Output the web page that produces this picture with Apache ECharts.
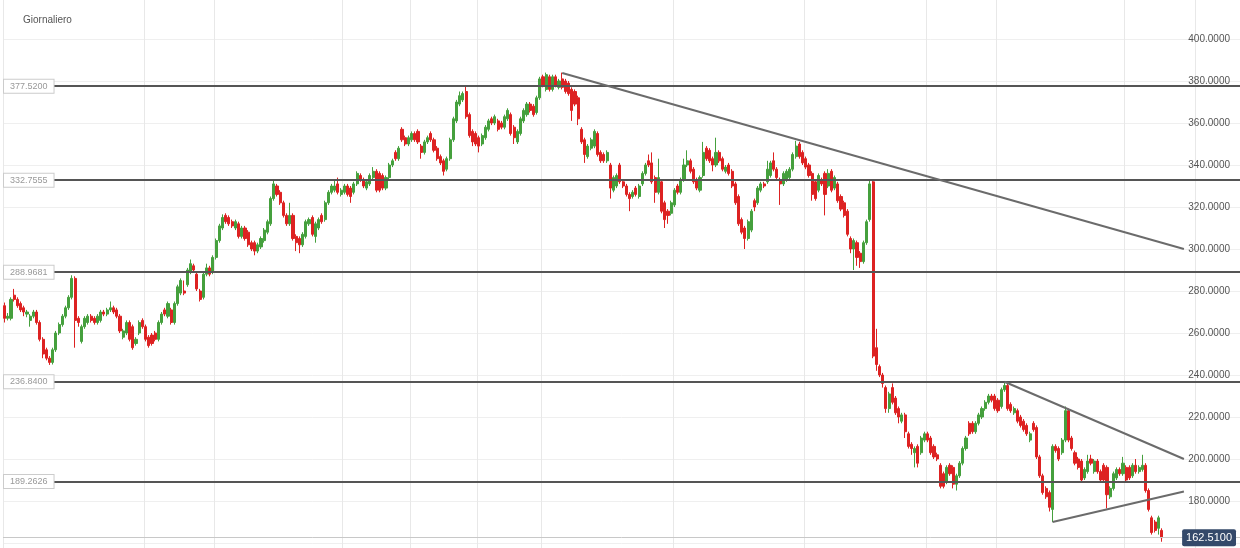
<!DOCTYPE html>
<html>
<head>
<meta charset="utf-8">
<title>Giornaliero</title>
<script src="https://cdn.jsdelivr.net/npm/echarts@6/dist/echarts.min.js"></script>
<style>
  html, body { margin: 0; padding: 0; background: #fff; }
  #chart { width: 1240px; height: 548px; }
</style>
</head>
<body>
<div id="chart"></div>
<script>
// daily candles, each [open, close, low, high]
const candlesA = [
  [273,267,265,274.5],[267,268,266,269.5],[267,276,266,277],[278,276,275,281],[276,273,272,277],
  [274,271,270,275],[272,270,268,273],[269,270,267.5,271],[266,268,263,269],[268,270,267,271],
  [270,265,264,271],[265,257,256,266],[257,250,248,258],[252,248,247,253],[248,246,244.8,249],
  [246,252,245,253],[252,260,251,261],[260,264,259,265],[264,268,263,269],[268,272,267,273],
  [272,277,271,278],[277,286,276,287.5],[286,266,253,287],[267,265,263,268],[256,263,255,264],
  [263,267,262,268],[265,268,264,269],[268,266,265,269],[267,265,264,268],[265,268,264,269],
  [266,270,265,271],[270,269,268,271],[269,271,268,272],[271,272,270,275],[272,270,269,273],
  [271,268,267,272],[268,261,260,269],[258,261,257,262],[260,265,259,266],[265,257,256,266],
  [263,253,252,264],[255,257,254,258],[260,265,259,266],[266,263,262,267],[263,257,256,264],
  [258,254,253,259],[259,255,254,260],[260,257,256,261],[257,265,256,266],[265,269,264,270],
  [271,269,268,272],[268,274,267,275],[271,265,264,272],[265,274,264,275],[274,282,273,283],
  [279,285,278,286],[280,279,278,285],[283,290,282,291],[289,293,288,295],[292,290,289,293],
  [288,281,280,289],[280,276,275,281]
];
const candlesB = [
  [277,288,276,289],[288,291,287,293],[291,288,287,292],[289,296,288,297],[296,304,295,305],
  [304,311,303,312],[310,315,309,316.5],[316,313,312,317],[315,312,311,316],[313,311,310,314],
  [310,313,309,314],[312,306,305,313],[306,310,305,311],[310,305,304,311],[308,302,301,309],
  [303,300,299,304],[303,299,297,304],[299,302,298,303],[301,305,300,306],[304,309,303,310],
  [308,313,307,314],[312,324,311,325],[324,331,323,333],[330,326,325,331],[327,322,321,328],
  [322,316,315,323],[316,312,311,317],[312,316,311,322],[316,305,304,317],[306,303,299,307],
  [305,302,298,306],[302,307,301,308],[306,313,305,314],[312,314,311,315],[315,307,306,316],
  [306,312,303,313],[310,314,309,315],[316,313,312,317],[314,322,313,323],[322,327,321,328],
  [327,330,326,331],[328,330,327,333],[331,327,326,334],[326,328,325,329],[327,330,326,331],
  [330,326,325,331],[329,325,322,330],[327,331,326,332],[331,336,330,337],[335,333,332,336],
  [333,330,329,334],[329,332,328,333],[331,335,330,336],[334,337,333,339],[337,328,327,338],
  [336,328,327,337],[335,329,328,336],[329,334,328,335],[334,340,333,341],[340,342,339,343],
  [346,343,342,347],[343,348,342,349]
];
const candlesC = [
  [357,352,351,358],[353,350,349,354],[350,353,349,354],[352,355,351,356],[355,352,351,356],
  [356,351,350,357],[349,346,343,350],[346,351,345,352],[351,353,350,354],[355,352,351,356],
  [352,347,346,353],[348,343,342,349],[344,341,340,345],[342,337,335,343],[338,343,337,344],
  [343,352,342,353],[352,362,351,363],[361,370,360,371],[369,373,368,375],[371,374,370,375],
  [375,363,362,378],[364,354,353,365],[356,351,349,357],[355,350,349,356],[353,349,346,354],
  [350,354,349,355],[353,358,352,359],[357,361,356,362],[362,360,359,363],[360,363,359,364],
  [361,357,356,362],[360,358,357,361],[358,363,357,364],[362,366,361,367],[364,355,354,365],
  [358,353,350,359],[351,356,350,357],[355,362,354,363],[361,366,360,367],[364,369,363,370],
  [369,366,365,370],[368,364,363,369],[365,372,364,373],[372,381,371,382],[382,378,377,383],
  [376,383,375,384],[382,376,375,383],[376,382,375,383],[382,378,377,383],[377,380,376,381],
  [381,377,376,384],[380,375,374,381],[379,374,373,380],[376,366,361,377],[375,369,368,376],
  [372,362,359,373],[357,351,350,358],[352,345,341,353],[344,349,343,350],[348,352,347,353],
  [349,356,348,357],[355,345,344,356]
];
const candlesD = [
  [346,342,341,347],[345,342,341,346],[342,346,341,347],[340,329,324,341],[328,334,327,335],
  [330,335,329,336],[340,332,331,341],[332,330,329,333],[330,326,325,331],[326,324,318,327],
  [325,327,324,328],[329,326,325,330],[325,330,324,331],[331,336,330,337],[336,340,335,341],
  [342,340,339,345],[341,332,331,346],[334,327,322,335],[327,334,326,343],[332,318,317,333],
  [322,314,310,323],[318,316,312,319],[317,322,316,323],[321,328,320,329],[330,327,326,331],
  [327,333,326,334],[333,340,332,343],[340,342,339,347],[342,337,336,343],[338,332,331,339],
  [333,329,328,334],[328,334,327,335],[335,346,334,351],[348,343,342,349],[347,342,341,348],
  [343,340,337,344],[340,346,339,353],[346,342,341,347],[343,338,337,344],[337,339,336,340],
  [340,336,335,341],[337,330,329,338],[331,322,321,332],[325,312,311,326],[314,308,307,315],
  [310,305,300,311],[305,313,304,314],[309,318,308,319],[323,320,318,324],[322,329,321,330],
  [328,331,327,332],[331,330,329,332],[332,338,331,342],[335,341,334,342],[342,338,337,346],
  [338,334,333,339],[333,331,321,334],[331,336,330,337],[333,337,332,338],[334,338,333,339],
  [338,345,337,346],[344,349,343,351.5],[350,344,343,351],[346,341,340,347],[343,339,338,344],
  [340,335,334,341]
];
const candlesE = [
  [336,326,323,337],[332,324,323,333],[328,335,327,336],[333,331,330,334],[336,326,316,337],
  [330,336,329,338],[337,328,327,338],[329,334,328,335],[331,323,322,332],[325,319,318,326],
  [322,316,315,323],[318,307,306,319],[305,300,298,306],[300,304,290,305],[303,296,292,304],
  [298,294,291,299],[294,303,293,304],[303,313,302,314],[314,331,313,333],[332,249,248,332.5],
  [253,245,242,262],[244,240,239,245],[240,236,234,241],[234,224,222,235],[224,231,222,232],
  [234,227,226,236],[229,222,221,230],[224,220,217,225],[218,221,217,222],[221,213,210,222],
  [212,206,205,213],[207,205,202,208],[203,205,196,206],[206,198,196,207],[203,210,202,211],
  [209,212,208,213],[212,209,208,213],[210,203,202,211],[206,201,200,207],[202,200,199,203],
  [197,187,186,198],[193,187,186,194],[189,196,188,197],[197,193,192,198],[196,188,186,197],
  [188,192,185,193],[192,198,191,199],[198,205,197,206],[205,210,204,211],[217,212,211,218],
  [217,213,212,218],[213,217,212,218],[217,221,216,222],[220,224,219,225],[224,227,223,228],
  [227,230,226,231],[230,228,227,231],[230,224,223,231],[228,223,222,229],[225,233,224,234],
  [233,235,232,236.8],[235,224,223,236],[226,223,222,227],[222,224,221,225],[223,218,217,224],
  [220,216,215,221],[218,214,213,219],[216,212,211,217],[209,212,208,213],[217,214,213,218],
  [215,201,200,216],[201,192,191,202],[192,184,183,193],[186,182,181,187],[184,177,175,185],
  [176,206,170,207],[206,204,203,207],[205,200,199,206],[203,209,202,210],[209,223,208,225],
  [223,209,208,224],[210,205,204,211],[203,198,197,204],[200,196,195,201],[199,190,189,200],
  [191,195,190,196],[194,199,193,202],[200,198,197,202],[194,199,193,200],[199,194,193,200],
  [194,190,189,195],[197,190,189,198],[196,183,176.5,197],[182,186,181,187],[186,193,185,194],
  [191,195,190,196],[195,193,192,196],[193,198,192,201],[196,190,189,197],[196,191,190,197],
  [192,197,191,198],[197,194,193,200],[194,196,193,197],[195,197,194,202],[197,185,184,198],
  [185,176,175,186],[172,165,164,173],[170,166,165,171],[167,172,164,173],[166,162.51,160.6,167]
];

// horizontal support / resistance levels
const levels = [377.52, 332.7555, 288.9681, 236.84, 189.2626];
const lastPrice = 162.51;
// trend lines: [fromIndex, fromValue, toIndex, toValue]
const trendLines = [
  [174, 383.8, 368, 300],
  [312, 236.8, 368, 200],
  [327, 170, 368, 184.5]
];
// candle indexes where the vertical (month) grid lines sit
const monthStarts = [0, 44, 66, 106, 127, 148, 168, 209, 250, 288, 310, 350, 372];
const slotCount = 386; // candles plus empty room on the right

const candles = candlesA.concat(candlesB, candlesC, candlesD, candlesE);
const categories = [];
for (let i = 0; i < slotCount; i++) categories.push(String(i));

const levelLines = levels.map(v => ({
  yAxis: v,
  lineStyle: { color: '#555', width: 2, type: 'solid' },
  label: {
    show: true,
    position: 'insideStart',
    distance: 1,
    formatter: () => v.toFixed(4),
    color: '#999',
    fontSize: 9,
    fontFamily: 'Arial',
    backgroundColor: '#fff',
    borderColor: '#ccc',
    borderWidth: 1,
    padding: [2, 6]
  }
}));

const trendStyle = { color: '#6b6b6b', width: 2, type: 'solid' };
const trendMarks = trendLines.map(t => [
  { coord: [String(t[0]), t[1]], lineStyle: trendStyle, label: { show: false } },
  { coord: [String(t[2]), t[3]], lineStyle: trendStyle, label: { show: false } }
]);

const priceMark = {
  yAxis: lastPrice,
  lineStyle: { color: '#c8c8c8', width: 1, type: 'solid' },
  label: {
    show: true,
    position: 'insideEnd',
    distance: 4,
    formatter: () => lastPrice.toFixed(4),
    color: '#fff',
    fontSize: 11,
    fontFamily: 'Arial',
    backgroundColor: '#34496a',
    borderRadius: 2,
    padding: [3, 4]
  }
};

const chart = echarts.init(document.getElementById('chart'));
chart.setOption({
  animation: false,
  backgroundColor: '#fff',
  title: {
    text: 'Giornaliero',
    left: 18,
    top: 10,
    textStyle: { fontSize: 10, fontWeight: 'normal', color: '#555', fontFamily: 'Arial' }
  },
  grid: { left: 3, right: 0, top: -3, bottom: -37, outerBoundsMode: 'none' },
  xAxis: {
    type: 'category',
    data: categories,
    boundaryGap: true,
    axisLine: { show: false },
    axisTick: { show: false },
    axisLabel: { show: false },
    splitLine: {
      show: true,
      interval: idx => monthStarts.indexOf(idx) !== -1,
      lineStyle: { color: '#e8e8e8', width: 1 }
    }
  },
  yAxis: {
    type: 'value',
    position: 'right',
    min: 140,
    max: 420,
    interval: 20,
    axisLine: { show: false },
    axisTick: { show: false },
    axisLabel: {
      inside: true,
      margin: 10,
      color: '#555',
      fontSize: 10,
      fontFamily: 'Arial',
      formatter: v => v.toFixed(4)
    },
    splitLine: { lineStyle: { color: '#efefef', width: 1 } }
  },
  series: [{
    type: 'candlestick',
    data: candles,
    barWidth: 2.6,
    itemStyle: {
      color: '#45a03d',
      color0: '#dd2222',
      borderColor: '#45a03d',
      borderColor0: '#dd2222',
      borderWidth: 1
    },
    markLine: {
      silent: true,
      symbol: ['none', 'none'],
      animation: false,
      data: levelLines.concat(trendMarks, [priceMark])
    }
  }]
});
</script>
</body>
</html>
